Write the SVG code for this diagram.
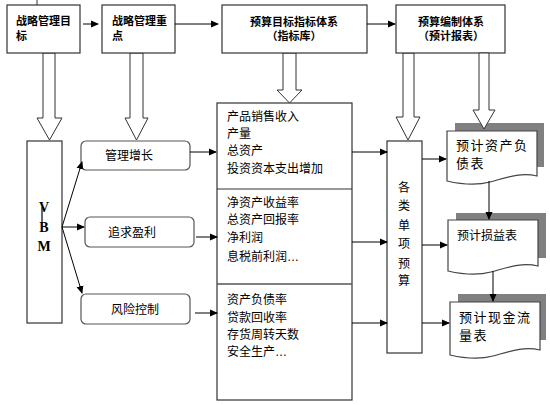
<svg xmlns="http://www.w3.org/2000/svg" width="550" height="405" viewBox="0 0 550 405">
<defs>
<marker id="ah" markerWidth="8" markerHeight="8" refX="7" refY="4" orient="auto" markerUnits="userSpaceOnUse">
<path d="M0,0.5 L8,4 L0,7.5 Z" fill="#000"/>
</marker>
<style>
.box{fill:#fff;stroke:#333;stroke-width:1.2}
.rbox{fill:#fff;stroke:#555;stroke-width:1.2}
.hol{fill:#fff;stroke:#333;stroke-width:1}
.ln{fill:none;stroke:#000;stroke-width:1;marker-end:url(#ah)}
.tb{font-family:"Liberation Sans","Noto Sans CJK SC",sans-serif;font-size:11px;font-weight:bold;fill:#000}
.t{font-family:"Liberation Sans","Noto Sans CJK SC",sans-serif;font-size:12px;fill:#000}
.td{font-family:"Liberation Sans","Noto Sans CJK SC",sans-serif;font-size:13px;letter-spacing:1.5px;fill:#000}
.sh{fill:#808080}
.doc{fill:#fff;stroke:#444;stroke-width:1.2}
.vbm{font-family:"Liberation Serif",serif;font-size:14px;font-weight:bold;fill:#000}
</style>
</defs>
<rect width="550" height="405" fill="#fff"/>
<line x1="37" y1="0" x2="37" y2="5" stroke="#333" stroke-width="1"/>

<g id="hollow-arrows">
<polygon class="hol" points="43,53 55,53 55,118 62,118 49.5,140 37,118 43,118"/>
<polygon class="hol" points="130,53 143,53 143,118 148,118 136.5,140 125,118 130,118"/>
<polygon class="hol" points="283,53 296,53 296,90 302,90 289.5,103 277,90 283,90"/>
<polygon class="hol" points="403,53 414,53 414,117 420,117 408,140 396,117 403,117"/>
</g>

<g id="n1"><rect class="box" x="7" y="5" width="73" height="48"/>
<text class="tb" x="16" y="25">战略管理目</text><text class="tb" x="16" y="40">标</text></g>
<g id="n2"><rect class="box" x="102" y="5" width="73" height="48"/>
<text class="tb" x="112" y="25">战略管理重</text><text class="tb" x="112" y="40">点</text></g>
<g id="n3"><rect class="box" x="222" y="5" width="145" height="48"/>
<text class="tb" x="294" y="26" text-anchor="middle">预算目标指标体系</text><text class="tb" x="294" y="40" text-anchor="middle">（指标库）</text></g>
<g id="n4"><rect class="box" x="396" y="5" width="109" height="48"/>
<text class="tb" x="451" y="26" text-anchor="middle">预算编制体系</text><text class="tb" x="451" y="40" text-anchor="middle">（预计报表）</text></g>

<g id="vbm"><rect class="box" x="27" y="141" width="35" height="182"/>
<text class="vbm" x="44" y="212" text-anchor="middle">V</text>
<text class="vbm" x="44" y="232" text-anchor="middle">B</text>
<text class="vbm" x="44" y="251" text-anchor="middle">M</text>
<line x1="42" y1="207" x2="42" y2="223" stroke="#000" stroke-width="1.2"/></g>

<g id="g1"><rect class="rbox" x="81" y="141" width="109" height="29" rx="5"/><text class="t" x="129" y="160" text-anchor="middle">管理增长</text></g>
<g id="g2"><rect class="rbox" x="85" y="217" width="109" height="30" rx="5"/><text class="t" x="132" y="237" text-anchor="middle">追求盈利</text></g>
<g id="g3"><rect class="rbox" x="81" y="294" width="109" height="30" rx="5"/><text class="t" x="135" y="314" text-anchor="middle">风险控制</text></g>

<g id="indicators"><rect class="box" x="217" y="103" width="135" height="297"/>
<line x1="217" y1="189" x2="352" y2="189" stroke="#333" stroke-width="1.2"/>
<line x1="217" y1="284" x2="352" y2="284" stroke="#555" stroke-width="1.5"/>
<text class="t" x="227" y="121">产品销售收入</text>
<text class="t" x="227" y="138">产量</text>
<text class="t" x="227" y="155">总资产</text>
<text class="t" x="227" y="173">投资资本支出增加</text>
<text class="t" x="227" y="207">净资产收益率</text>
<text class="t" x="227" y="224">总资产回报率</text>
<text class="t" x="227" y="242">净利润</text>
<text class="t" x="227" y="261">息税前利润…</text>
<text class="t" x="227" y="304">资产负债率</text>
<text class="t" x="227" y="322">贷款回收率</text>
<text class="t" x="227" y="339">存货周转天数</text>
<text class="t" x="227" y="356">安全生产…</text></g>

<g id="budget"><rect class="box" x="387" y="141" width="35" height="212"/>
<text class="t" x="404" y="192" text-anchor="middle">各</text>
<text class="t" x="404" y="210" text-anchor="middle">类</text>
<text class="t" x="404" y="230" text-anchor="middle">单</text>
<text class="t" x="404" y="248" text-anchor="middle">项</text>
<text class="t" x="404" y="268" text-anchor="middle">预</text>
<text class="t" x="404" y="285" text-anchor="middle">算</text></g>

<g id="doc1"><rect class="sh" x="455" y="123" width="89" height="44"/>
<path class="doc" d="M447,131 H537 V176 C520,172 505,178 490,182 C475,186 460,184 447,181 Z"/>
<text class="td" x="456" y="150">预计资产负</text><text class="td" x="456" y="168">债表</text></g>
<g id="doc2"><rect class="sh" x="456" y="213" width="90" height="45"/>
<path class="doc" d="M448,220 H538 V266 C521,262 506,268 491,272 C476,276 461,274 448,271 Z"/>
<text class="t" x="457" y="240">预计损益表</text></g>
<g id="doc3"><rect class="sh" x="458" y="294" width="88" height="46"/>
<path class="doc" d="M450,302 H540 V350 C523,346 508,352 493,356 C478,360 463,358 450,355 Z"/>
<text class="td" x="459" y="322">预计现金流</text><text class="td" x="459" y="340">量表</text></g>

<polygon class="hol" points="479,53 489,53 489,110 495,110 484,129 473,110 479,110"/>

<g id="connectors">
<line class="ln" x1="83" y1="24" x2="98" y2="24"/>
<line class="ln" x1="175" y1="24" x2="218" y2="24"/>
<line class="ln" x1="367" y1="24" x2="395" y2="24"/>
<line class="ln" x1="62" y1="227" x2="82" y2="162"/>
<line class="ln" x1="62" y1="227" x2="84" y2="227"/>
<line class="ln" x1="62" y1="227" x2="82" y2="293"/>
<line class="ln" x1="190" y1="152" x2="216" y2="152"/>
<line class="ln" x1="196" y1="237" x2="217" y2="237"/>
<line class="ln" x1="195" y1="313" x2="217" y2="313"/>
<line class="ln" x1="352" y1="152" x2="387" y2="152"/>
<line class="ln" x1="352" y1="242" x2="387" y2="242"/>
<line class="ln" x1="352" y1="323" x2="387" y2="323"/>
<line class="ln" x1="422" y1="159" x2="446" y2="159"/>
<line class="ln" x1="422" y1="245" x2="447" y2="245"/>
<line class="ln" x1="422" y1="323" x2="449" y2="323"/>
<line class="ln" x1="489" y1="181" x2="489" y2="219"/>
<line class="ln" x1="493" y1="271" x2="493" y2="301"/>
</g>
</svg>
